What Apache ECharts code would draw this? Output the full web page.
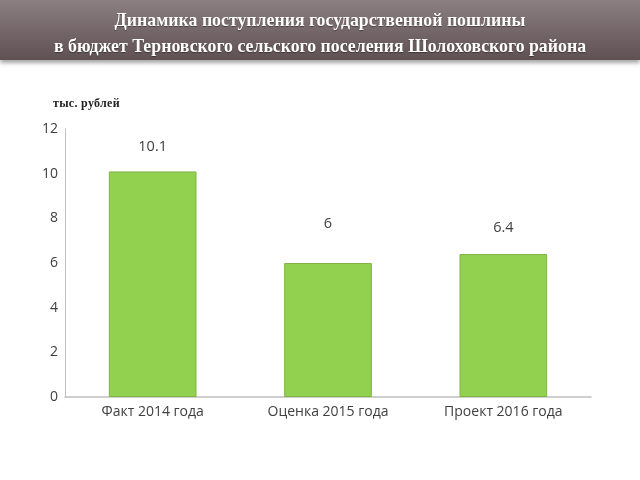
<!DOCTYPE html>
<html><head><meta charset="utf-8">
<script src="https://cdn.jsdelivr.net/npm/echarts@6/dist/echarts.min.js"></script>
<style>
html,body{margin:0;padding:0;background:#fff;}
#header{position:absolute;left:0;top:0;width:640px;height:60px;background:linear-gradient(#8c7f81,#5f5153);box-shadow:0 3px 4px rgba(0,0,0,0.35);color:#fff;font-family:"Liberation Serif","DejaVu Serif",serif;font-weight:bold;font-size:17.8px;text-align:center;line-height:26px;padding-top:7px;box-sizing:border-box;text-shadow:0 1px 1px rgba(0,0,0,0.4);}
#unit{position:absolute;left:53px;top:96px;font-family:"Liberation Serif",serif;font-weight:bold;font-size:12px;letter-spacing:0.3px;color:#222;}
#chart{position:absolute;left:0;top:0;width:640px;height:480px;}
</style></head>
<body>
<div id="chart"></div>
<div id="header">Динамика поступления государственной пошлины<br>в бюджет Терновского сельского поселения Шолоховского района</div>
<div id="unit">тыс. рублей</div>
<script>
const categories = ["Факт 2014 года", "Оценка 2015 года", "Проект 2016 года"];
const values = [10.1, 6, 6.4];
const labelDistances = [17, 32, 19];

const chart = echarts.init(document.getElementById('chart'));
chart.setOption({
  animation: false,
  grid: {left: 65, right: 49, top: 129, bottom: 83},
  xAxis: {
    type: 'category', data: categories,
    axisLine: {lineStyle: {color: '#bfbfbf', width: 1.5}},
    axisTick: {show: false},
    axisLabel: {color: '#404040', fontSize: 14, fontFamily: 'Open Sans, sans-serif', margin: 8}
  },
  yAxis: {
    type: 'value', min: 0, max: 12, interval: 2,
    axisLine: {show: true, lineStyle: {color: '#bfbfbf', width: 1}},
    axisTick: {show: false},
    splitLine: {show: false},
    axisLabel: {color: '#404040', fontSize: 14, fontFamily: 'Open Sans, sans-serif', margin: 7}
  },
  series: [{
    type: 'bar', barWidth: '50%',
    data: values.map((v, i) => ({value: v, label: {distance: labelDistances[i]}})),
    itemStyle: {color: '#92d050', borderColor: '#7fb445', borderWidth: 1},
    label: {show: true, position: 'top', color: '#404040', fontSize: 14.5, fontFamily: 'Open Sans, sans-serif'}
  }]
});
</script>
</body></html>
